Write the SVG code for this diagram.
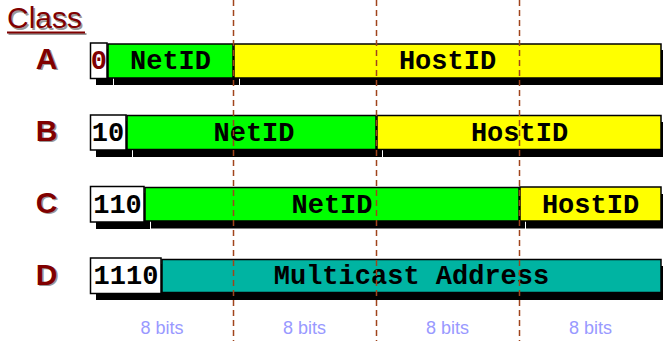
<svg xmlns="http://www.w3.org/2000/svg" width="663" height="341" viewBox="0 0 663 341">
<defs>
<style>
.sh{fill:#000}
.bx{stroke:#000;stroke-width:1.5}
.w{fill:#fff}
.g{fill:#00ff00}
.y{fill:#ffff00}
.t{fill:#00b4a2}
.f{font-family:"Liberation Mono","Courier New",monospace;font-weight:bold;font-size:27px;fill:#000;text-anchor:middle}
.cls{font-family:"Liberation Sans",Arial,sans-serif;font-weight:bold;font-size:30px;fill:#800000;text-anchor:middle}
.clsh{font-family:"Liberation Sans",Arial,sans-serif;font-weight:bold;font-size:30px;fill:#999;text-anchor:middle}
.bits{font-family:"Liberation Sans",Arial,sans-serif;font-size:18px;fill:#9999ff;text-anchor:middle}
.dash{stroke:#a0441c;stroke-width:1.5;stroke-dasharray:6 4;fill:none}
</style>
</defs>
<rect width="663" height="341" fill="#fff"/>
<g id="title">
<text x="8.5" y="29.5" font-family="Liberation Sans,Arial,sans-serif" font-size="30" fill="#999">Class</text>
<rect x="8.5" y="33" width="78" height="2" fill="#999"/>
<text x="7" y="28" font-family="Liberation Sans,Arial,sans-serif" font-size="30" fill="#800000">Class</text>
<rect x="7" y="31.5" width="78" height="2" fill="#800000"/>
</g>
<g id="labels">
<text class="clsh" x="48" y="70">A</text><text class="cls" x="46.5" y="68.5">A</text>
<text class="clsh" x="48" y="142">B</text><text class="cls" x="46.5" y="140.5">B</text>
<text class="clsh" x="48" y="214">C</text><text class="cls" x="46.5" y="212.5">C</text>
<text class="clsh" x="48" y="286">D</text><text class="cls" x="46.5" y="284.5">D</text>
</g>
<g id="rowA">
<g id="A-prefix"><rect class="sh" x="96" y="49" width="17" height="36"/><rect class="bx w" x="90.5" y="43" width="16.5" height="35.5"/><text class="f" x="98.8" y="69" fill="#800000" style="fill:#800000">0</text></g>
<g id="A-net"><rect class="sh" x="114" y="50" width="125" height="35"/><rect class="bx g" x="108" y="44" width="125" height="34"/><text class="f" x="170.5" y="69">NetID</text></g>
<g id="A-host"><rect class="sh" x="240" y="50" width="427" height="35"/><rect class="bx y" x="234" y="44" width="427" height="34"/><text class="f" x="447.5" y="69">HostID</text></g>
</g>
<g id="rowB">
<g id="B-prefix"><rect class="sh" x="96" y="121" width="36" height="36"/><rect class="bx w" x="90.5" y="115" width="35.5" height="35"/><text class="f" x="108" y="141">10</text></g>
<g id="B-net"><rect class="sh" x="133" y="122" width="249" height="35"/><rect class="bx g" x="127" y="115.5" width="249" height="34"/><text class="f" x="254" y="141">NetID</text></g>
<g id="B-host"><rect class="sh" x="383" y="122" width="284" height="35"/><rect class="bx y" x="377" y="115.5" width="284" height="34"/><text class="f" x="519.5" y="141">HostID</text></g>
</g>
<g id="rowC">
<g id="C-prefix"><rect class="sh" x="96" y="193" width="54" height="36"/><rect class="bx w" x="90.5" y="186.5" width="53.5" height="35.5"/><text class="f" x="117.5" y="213">110</text></g>
<g id="C-net"><rect class="sh" x="151" y="194" width="374" height="34.5"/><rect class="bx g" x="145" y="187.5" width="374" height="33.5"/><text class="f" x="332" y="213">NetID</text></g>
<g id="C-host"><rect class="sh" x="526" y="194" width="141" height="34.5"/><rect class="bx y" x="520" y="187" width="141" height="34"/><text class="f" x="590.5" y="213">HostID</text></g>
</g>
<g id="rowD">
<g id="D-prefix"><rect class="sh" x="96" y="264" width="72" height="36"/><rect class="bx w" x="90.5" y="258" width="70.5" height="35.5"/><text class="f" x="126" y="284">1110</text></g>
<g id="D-multicast"><rect class="sh" x="168" y="266" width="499" height="34"/><rect class="bx t" x="162" y="259.5" width="499" height="33"/><text class="f" x="411.5" y="284">Multicast Address</text></g>
</g>
<g id="connectors">
<line class="dash" x1="233.5" y1="0" x2="233.5" y2="341"/>
<line class="dash" x1="376.5" y1="0" x2="376.5" y2="341"/>
<line class="dash" x1="519.5" y1="0" x2="519.5" y2="341"/>
</g>
<g id="bits">
<text class="bits" x="162" y="334">8 bits</text>
<text class="bits" x="304.5" y="334">8 bits</text>
<text class="bits" x="447.5" y="334">8 bits</text>
<text class="bits" x="590.5" y="334">8 bits</text>
</g>
</svg>
